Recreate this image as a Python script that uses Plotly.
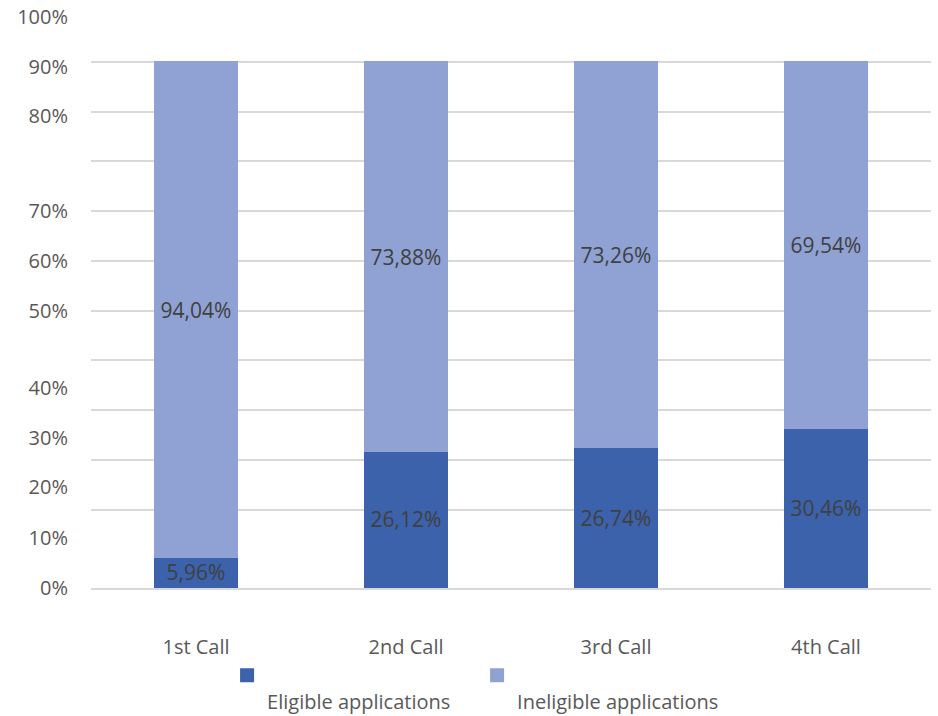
import plotly.graph_objects as go

# ---- data ----
categories = ["1st Call", "2nd Call", "3rd Call", "4th Call"]
eligible = [5.96, 26.12, 26.74, 30.46]
ineligible = [94.04, 73.88, 73.26, 69.54]
tick_labels = ["0%", "10%", "20%", "30%", "40%", "50%", "60%", "70%", "80%", "90%", "100%"]

# ---- layout helpers (positions of the irregular axis labels / gridlines) ----
PX = 5.256  # pixels per unit
label_px = [588, 538, 487, 438, 388, 311, 261, 211, 116, 67, 17]
tick_pos = [(588 - p) / PX for p in label_px]
grid_px = [62, 112, 161, 211, 261, 311, 360, 410, 460, 510]
grid_pos = [(588 - p) / PX for p in grid_px]

C_ELIG = "#3B62AA"
C_INEL = "#8FA2D3"
FONT = "Open Sans"

fig = go.Figure()
fig.add_trace(go.Bar(
    x=categories, y=eligible, name=" <br>Eligible applications",
    marker=dict(color=C_ELIG, line=dict(width=2, color=C_ELIG)),
    texttemplate="%{y:.2f}%", textposition="inside", insidetextanchor="middle",
    textfont=dict(family=FONT, size=21, color="#404040"),
))
fig.add_trace(go.Bar(
    x=categories, y=ineligible, name=" <br>Ineligible applications",
    marker=dict(color=C_INEL, line=dict(width=2, color=C_INEL)),
    texttemplate="%{y:.2f}%", textposition="inside", insidetextanchor="middle",
    textfont=dict(family=FONT, size=21, color="#404040"),
))

fig.update_layout(
    width=938, height=732,
    barmode="stack", bargap=0.61,
    separators=",.",
    plot_bgcolor="white", paper_bgcolor="white",
    margin=dict(l=91, r=7, t=14, b=144),
    font=dict(family=FONT, size=20, color="#595959"),
    uniformtext=dict(minsize=21, mode="show"),
    showlegend=True,
    legend=dict(
        orientation="h", x=0.162, xanchor="left", y=-0.118, yanchor="top",
        valign="top", entrywidth=205, entrywidthmode="pixels",
        bgcolor="rgba(0,0,0,0)",
        font=dict(family=FONT, size=20, color="#595959"),
        traceorder="normal",
    ),
    xaxis=dict(
        automargin=False,
        showline=True, linecolor="#D9D9D9", linewidth=2,
        showgrid=False, ticks="", ticklabelstandoff=40,
        tickfont=dict(family=FONT, size=20, color="#595959"),
    ),
    yaxis=dict(
        automargin=False,
        range=[0, 109.2], showgrid=False, zeroline=False, showline=False,
        tickmode="array", tickvals=tick_pos, ticktext=tick_labels,
        ticks="", ticklabelstandoff=22,
        tickfont=dict(family=FONT, size=20, color="#595959"),
        minor=dict(tickmode="array", tickvals=grid_pos, showgrid=True,
                   gridcolor="#D9D9D9", gridwidth=2, ticks=""),
    ),
)

fig.write_html(
    "out.html",
    config={"displayModeBar": False},
    post_script="document.body.style.margin='0';document.body.style.overflow='hidden';",
)
